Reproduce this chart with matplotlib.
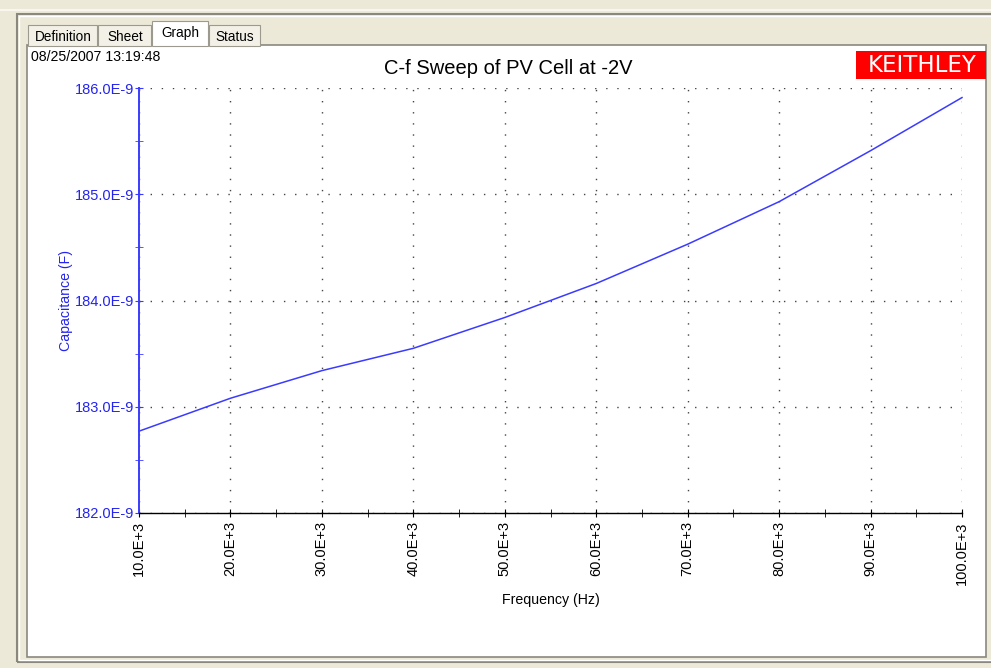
import matplotlib
matplotlib.use("Agg")
import matplotlib.pyplot as plt
from matplotlib.patches import Rectangle
from matplotlib.ticker import MultipleLocator, FuncFormatter

# data
freq_hz = [10e3, 20e3, 30e3, 40e3, 50e3, 60e3, 70e3, 80e3, 90e3, 100e3]
cap_nf = [182.77, 183.08, 183.34, 183.55, 183.84, 184.16, 184.53, 184.93, 185.41, 185.91]
tabs = ["Definition", "Sheet", "Graph", "Status"]
stamp = "08/25/2007 13:19:48"

W, H = 991, 668
plt.rcParams['font.family'] = ['Liberation Sans', 'DejaVu Sans']
fig = plt.figure(figsize=(W / 100, H / 100), dpi=100, facecolor="#ECE9D8")

def px_rect(x0, y0, x1, y1, **kw):
    fig.patches.append(Rectangle((x0 / W, 1 - y1 / H), (x1 - x0) / W, (y1 - y0) / H,
                                 transform=fig.transFigure, **kw))

# window frame
px_rect(17, 14, 1000, 662, facecolor="none", edgecolor="#8A887E", lw=1.5)
px_rect(19, 16, 1000, 660, facecolor="none", edgecolor="#FFFFFF", lw=1)
px_rect(0, 9, 991, 11, facecolor="#F8F6EE", edgecolor="none")
px_rect(27, 45, 986, 657, facecolor="white", edgecolor="#8A887E", lw=1.2)

# tabs
tab_x = [28, 98, 152, 209, 261]
for i, name in enumerate(tabs):
    sel = name == "Graph"
    y0 = 21 if sel else 25
    px_rect(tab_x[i], y0, tab_x[i + 1] - 1, 46, facecolor="white" if sel else "#F3F1E7",
            edgecolor="#9C9A8F", lw=0.8, zorder=2)
    fig.text((tab_x[i] + tab_x[i + 1]) / 2 / W, 1 - (y0 + 12) / H, name,
             ha="center", va="center", fontsize=9.8, color="black")

fig.text(31 / W, 1 - 57 / H, stamp, ha="left", va="center", fontsize=10.2)

# keithley logo
px_rect(856, 51, 986, 79, facecolor="#FF0000", edgecolor="none", zorder=3)
fig.text(922 / W, 1 - 65 / H, "KEITHLEY", ha="center", va="center",
         fontsize=16.5, color="white", family="DejaVu Sans", zorder=4)

fig.text(508 / W, 1 - 69 / H, "C-f Sweep of PV Cell at -2V", ha="center", va="center",
         fontsize=14.5)

ax = fig.add_axes([139 / W, 1 - 513 / H, (962 - 139) / W, (513 - 88) / H])
ax.set_zorder(5)
ax.patch.set_alpha(0)
ax.plot(freq_hz, cap_nf, color="#3B3BFF", lw=1.1, clip_on=False, zorder=3)
ax.set_xlim(10e3, 100e3)
ax.set_ylim(182, 186)

ax.xaxis.set_major_locator(MultipleLocator(10e3))
ax.xaxis.set_minor_locator(MultipleLocator(5e3))
ax.yaxis.set_major_locator(MultipleLocator(1))
ax.yaxis.set_minor_locator(MultipleLocator(0.5))
ax.xaxis.set_major_formatter(FuncFormatter(lambda v, p: "%.1fE+3" % (v / 1e3)))
ax.yaxis.set_major_formatter(FuncFormatter(lambda v, p: "%.1fE-9" % v))

ax.grid(True, which="major", ls=(0, (1, 7)), color="#444444", lw=1.0)
for s in ("top", "right"):
    ax.spines[s].set_visible(False)
ax.spines["left"].set_color("#3B3BFF")
ax.spines["left"].set_linewidth(1.4)
ax.spines["bottom"].set_color("black")
ax.spines["bottom"].set_linewidth(1.0)

ax.tick_params(axis="y", which="both", direction="inout", colors="#3B3BFF",
               labelcolor="#2424F0", labelsize=10.5, pad=0.5, length=6)
ax.tick_params(axis="x", which="both", direction="inout", colors="black",
               labelsize=10.5, pad=3, length=6)
for lab in ax.get_xticklabels():
    lab.set_rotation(90)

ax.set_xlabel("Frequency (Hz)", fontsize=10.2, labelpad=6)
ax.set_ylabel("Capacitance (F)", fontsize=10.2, color="#2424F0", labelpad=1)

fig.savefig("out.png", dpi=100, facecolor=fig.get_facecolor())
